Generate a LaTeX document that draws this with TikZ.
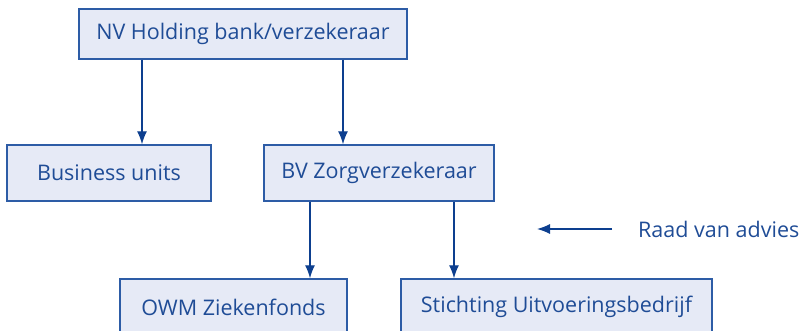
\documentclass[tikz,border=0pt]{standalone}
\usepackage{fontspec}
\usepackage{tikz}
\usetikzlibrary{arrows.meta}
\setmainfont{Open Sans}
\definecolor{boxfill}{HTML}{E6EAF6}
\definecolor{boxline}{HTML}{2D5CA6}
\definecolor{inktext}{HTML}{1F4C96}
\definecolor{arrowblue}{HTML}{0D3F8F}

\begin{document}
\begin{tikzpicture}[x=1pt,y=-1pt,
        unitbox/.style={draw=boxline,fill=boxfill,line width=1.4pt,text=inktext,
            font=\fontsize{21.5}{25}\selectfont,inner sep=0pt,
            minimum height=56pt},
        arr/.style={draw=arrowblue,line width=1.3pt,-{Latex[length=13pt,width=10pt]}}]
        \useasboundingbox (0,0) rectangle (801,331);
        % Draw the boxes
        \node[unitbox,minimum width=328pt,minimum height=50pt] (nv) at (243,34) {NV Holding bank/verzekeraar};
        \node[unitbox,minimum width=204pt] (bu) at (109,173) {Business units};
        \node[unitbox,minimum width=230pt] (bv) at (379,173) {BV Zorgverzekeraar};
        \node[unitbox,minimum width=227pt] (owm) at (233.5,307) {OWM Ziekenfonds};
        \node[unitbox,minimum width=311pt] (su) at (556.5,307) {Stichting Uitvoeringsbedrijf};
        \node[text=inktext,font=\fontsize{21.5}{25}\selectfont,anchor=west,inner sep=0pt] (raad) at (638,229) {Raad van advies};
        % Draw the arrows
        \coordinate (xa) at (142,0);
        \coordinate (xb) at (343,0);
        \coordinate (xc) at (310,0);
        \coordinate (xd) at (454,0);
        \coordinate (raadstart) at (612,229);
        \coordinate (raadend) at (537,229);
        \draw[arr] (nv.south -| xa) -- (bu.north -| xa);
        \draw[arr] (nv.south -| xb) -- (bv.north -| xb);
        \draw[arr] (bv.south -| xc) -- (owm.north -| xc);
        \draw[arr] (bv.south -| xd) -- (su.north -| xd);
        \draw[arr] (raadstart) -- (raadend);
    \end{tikzpicture}
\end{document}
